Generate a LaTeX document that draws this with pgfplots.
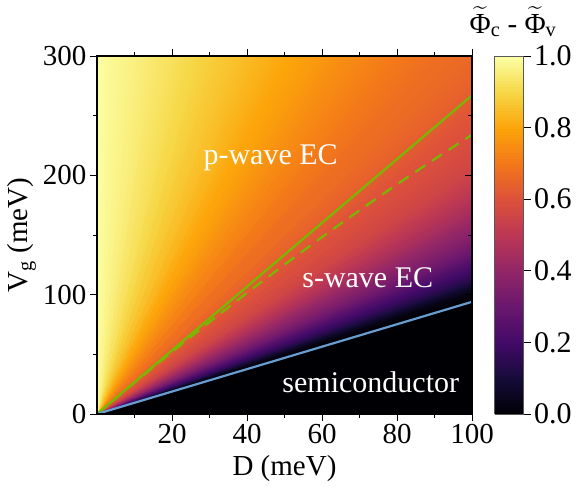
\documentclass[border=0pt]{standalone}
\usepackage{fontspec}
\setmainfont{Liberation Serif}
\usepackage{amsmath}
\usepackage{pgfplots}
\pgfplotsset{compat=1.18}
\definecolor{lgreen}{RGB}{118,185,0}
\definecolor{lblue}{RGB}{104,157,209}
\pgfplotsset{colormap={inferno}{
rgb255=(0,0,4) rgb255=(22,11,57) rgb255=(66,10,104) rgb255=(106,23,110)
rgb255=(147,38,103) rgb255=(188,55,84) rgb255=(221,81,58) rgb255=(243,120,25)
rgb255=(252,165,10) rgb255=(246,215,70) rgb255=(252,255,164)}}
\newcommand{\tk}{\fontsize{29}{31}\selectfont}
\newcommand{\cb}{\fontsize{30}{32}\selectfont}
\newcommand{\an}{\fontsize{30}{32}\selectfont}
\begin{document}
\begin{tikzpicture}
\begin{axis}[
 scale only axis, width=375pt, height=358pt,
 xmin=0, xmax=100, ymin=0, ymax=300,
 colormap name=inferno, point meta min=0, point meta max=1,
 colorbar, colorbar sampled,
 colorbar style={
   width=29pt, at={(parent axis.north east)}, anchor=north west, xshift=14pt,
   samples=120,
   ytick={0,0.2,0.4,0.6,0.8,1}, yticklabels={0.0,0.2,0.4,0.6,0.8,1.0},
   yticklabel style={font=\cb}, ytick pos=right, tick align=outside,
   major tick length=7pt, every tick/.style={black, line width=0.9pt},
   axis line style={gray!70!black, line width=0.8pt},
 },
 xtick={20,40,60,80,100}, minor xtick={10,30,50,70,90},
 ytick={0,100,200,300}, minor ytick={50,150,250},
 tick align=outside, xtick pos=both, ytick pos=left,
 major tick length=7pt, minor tick length=4pt,
 every tick/.style={black, line width=0.9pt},
 axis line style={black, line width=1.1pt},
 tick label style={font=\tk},
 /pgf/number format/assume math mode=true,
 xlabel={D (meV)}, ylabel={V\textsubscript{g} (meV)},
 label style={font=\tk},
 xlabel style={yshift=-4pt},
 axis on top,
]
\addplot[surf, shader=interp, mesh/cols=2, point meta=\thisrow{c}] table {
x y c
0 0 0
100 0 0
0 0 0
100 50 0
0 0 0
100 94 0
0 0 0.01
100 98 0.01
0 0 0.02
100 100 0.02
0 0 0.03
100 102 0.03
0 0 0.055
100 104.5 0.055
0 0 0.08
100 107 0.08
0 0 0.10
100 109 0.10
0 0 0.12
100 111 0.12
0 0 0.14
100 113 0.14
0 0 0.165
100 116 0.165
0 0 0.19
100 120 0.19
0 0 0.215
100 123.5 0.215
0 0 0.24
100 127 0.24
0 0 0.26
100 130 0.26
0 0 0.28
100 133 0.28
0 0 0.30
100 136 0.30
0 0 0.325
100 141 0.325
0 0 0.35
100 146 0.35
0 0 0.375
100 152 0.375
0 0 0.40
100 158 0.40
0 0 0.425
100 164 0.425
0 0 0.45
100 170 0.45
0 0 0.475
100 177.5 0.475
0 0 0.50
100 185 0.50
0 0 0.525
100 194 0.525
0 0 0.55
100 203 0.55
0 0 0.565
100 214 0.565
0 0 0.58
100 225 0.58
0 0 0.595
100 240 0.595
0 0 0.61
100 254 0.61
0 0 0.625
100 265 0.625
0 0 0.64
100 275 0.64
0 0 0.65
100 287 0.65
0 0 0.66
100 300 0.66
0 0 0.68
88.24 300 0.68
0 0 0.705
78.95 300 0.705
0 0 0.73
71.43 300 0.73
0 0 0.745
66.67 300 0.745
0 0 0.76
62.5 300 0.76
0 0 0.775
58.82 300 0.775
0 0 0.79
54.55 300 0.79
0 0 0.805
50 300 0.805
0 0 0.82
46.15 300 0.82
0 0 0.84
41.1 300 0.84
0 0 0.86
36.14 300 0.86
0 0 0.877
31.58 300 0.877
0 0 0.895
27.27 300 0.895
0 0 0.913
22.56 300 0.913
0 0 0.93
18.29 300 0.93
0 0 0.943
15 300 0.943
0 0 0.955
12 300 0.955
0 0 0.965
9.09 300 0.965
0 0 0.975
6 300 0.975
0 0 0.983
3.75 300 0.983
0 0 0.99
2 300 0.99
0 0 0.995
1 300 0.995
0 0 1.0
0 300 1.0
};
\addplot[lgreen, line width=2.2pt, dash pattern=on 12pt off 8pt] coordinates {
(0,0) (10,26.4) (20,52.1) (30,77.1) (40,101.5) (50,125.2) (60,148.3) (70,170.7) (80,192.5) (90,213.6) (100,234)};
\addplot[lgreen, line width=2.2pt] coordinates {(0,0) (100,267)};
\addplot[lblue, line width=2.2pt] coordinates {(0,0) (100,94)};
\node[white, font=\an] at (axis cs:46.3,215) {p-wave EC};
\node[white, font=\an] at (axis cs:72.2,114) {s-wave EC};
\node[white, font=\an] at (axis cs:73,27) {semiconductor};
\end{axis}
\begin{axis}[
 scale only axis, width=375pt, height=358pt,
 xmin=0, xmax=100, ymin=0, ymax=300,
 axis x line=none, axis y line*=right,
 ytick={0,100,200,300}, minor ytick={50,150,250}, yticklabels={},
 tick align=inside, major tick length=7pt, minor tick length=4pt,
 every tick/.style={black, line width=0.9pt},
 axis line style={black, line width=1.1pt},
]
\end{axis}
\node[font=\tk] at (416pt,392pt) {$\widetilde{\text{Φ}}_{\text{c}}$ - $\widetilde{\text{Φ}}_{\text{v}}$};
\pgfresetboundingbox
\path[use as bounding box] (-97pt,-73pt) rectangle (484pt,414pt);
\end{tikzpicture}
\end{document}
